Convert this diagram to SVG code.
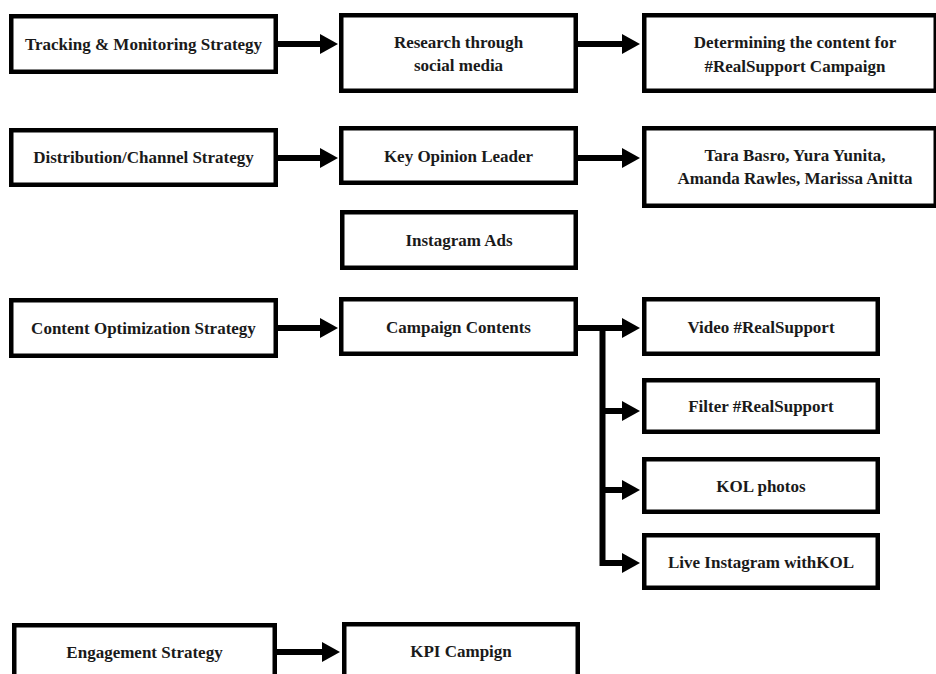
<svg xmlns="http://www.w3.org/2000/svg" width="936" height="674" viewBox="0 0 936 674">
<style>
.box{fill:#fff;stroke:#000;stroke-width:4.5}
.t{font-family:"Liberation Serif","Times New Roman",serif;font-weight:bold;font-size:17px;text-anchor:middle;fill:#1a1a1a}
.c{stroke:#000;stroke-width:6;fill:none}
.a{marker-end:url(#ah)}
</style>
<defs>
<marker id="ah" markerUnits="userSpaceOnUse" markerWidth="18" markerHeight="20" refX="0" refY="10" orient="auto" viewBox="0 0 18 20"><path d="M0,0 L18,10 L0,20 Z" fill="#000"/></marker>
</defs>
<rect width="936" height="674" fill="#fff"/>
<g id="connectors">
<path class="c a" d="M278,44 H320"/>
<path class="c a" d="M578,44 H622"/>
<path class="c a" d="M278,158 H320"/>
<path class="c a" d="M578,158 H622"/>
<path class="c a" d="M278,328 H320"/>
<path class="c a" d="M578,328 H622"/>
<path class="c a" d="M602.5,325 V563 H622"/>
<path class="c a" d="M602.5,411 H622"/>
<path class="c a" d="M602.5,490 H622"/>
<path class="c a" d="M277,652 H322"/>
</g>
<g id="n1"><rect class="box" x="11.25" y="16.25" width="264.5" height="55.5"/><text class="t" x="143.5" y="50">Tracking &amp; Monitoring Strategy</text></g>
<g id="n2"><rect class="box" x="341.25" y="15.25" width="234.5" height="75.5"/><text class="t" x="458.5" y="47.5">Research through</text><text class="t" x="458.5" y="70.5">social media</text></g>
<g id="n3"><rect class="box" x="644.25" y="15.25" width="291.5" height="75.5"/><text class="t" x="795" y="47.5">Determining the content for</text><text class="t" x="795" y="71.5">#RealSupport Campaign</text></g>
<g id="n4"><rect class="box" x="11.25" y="130.25" width="264.5" height="54.5"/><text class="t" x="143.5" y="163">Distribution/Channel Strategy</text></g>
<g id="n5"><rect class="box" x="341.25" y="128.25" width="234.5" height="54.5"/><text class="t" x="458.5" y="161.5">Key Opinion Leader</text></g>
<g id="n6"><rect class="box" x="644.25" y="128.25" width="291.5" height="77.5"/><text class="t" x="795" y="160.5">Tara Basro, Yura Yunita,</text><text class="t" x="795" y="183.5">Amanda Rawles, Marissa Anitta</text></g>
<g id="n7"><rect class="box" x="342.25" y="212.25" width="233.5" height="55.5"/><text class="t" x="459" y="246">Instagram Ads</text></g>
<g id="n8"><rect class="box" x="11.25" y="300.25" width="264.5" height="55.5"/><text class="t" x="143.5" y="334">Content Optimization Strategy</text></g>
<g id="n9"><rect class="box" x="341.25" y="299.25" width="234.5" height="54.5"/><text class="t" x="458.5" y="333">Campaign Contents</text></g>
<g id="n10"><rect class="box" x="644.25" y="299.25" width="233.5" height="54.5"/><text class="t" x="761" y="333">Video #RealSupport</text></g>
<g id="n11"><rect class="box" x="644.25" y="380.25" width="233.5" height="51.5"/><text class="t" x="761" y="412">Filter #RealSupport</text></g>
<g id="n12"><rect class="box" x="644.25" y="459.25" width="233.5" height="52.5"/><text class="t" x="761" y="491.5">KOL photos</text></g>
<g id="n13"><rect class="box" x="644.25" y="535.25" width="233.5" height="52.5"/><text class="t" x="761" y="567.5">Live Instagram withKOL</text></g>
<g id="n14"><rect class="box" x="14.25" y="625.25" width="260.5" height="80"/><text class="t" x="144.5" y="658">Engagement Strategy</text></g>
<g id="n15"><rect class="box" x="344.25" y="624.25" width="233.5" height="80"/><text class="t" x="461" y="657">KPI Campign</text></g>
</svg>
